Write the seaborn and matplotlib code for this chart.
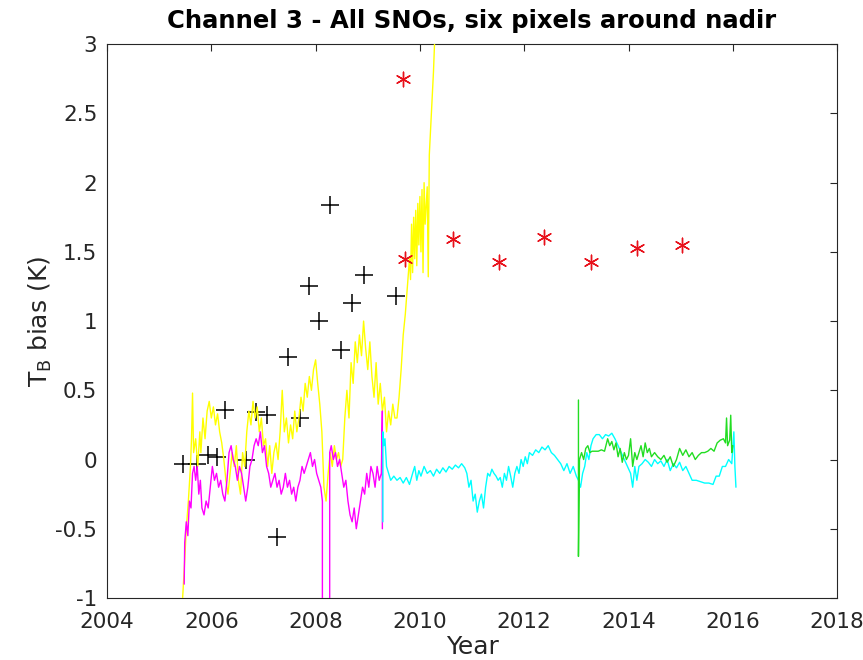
import matplotlib
matplotlib.use("Agg")
import matplotlib.pyplot as plt
import seaborn as sns
import pandas as pd

# ---------------- data ----------------
yellow_x = [2005.45, 2005.48, 2005.52, 2005.56, 2005.60, 2005.62, 2005.64, 2005.66, 2005.70, 2005.74,
            2005.78, 2005.80, 2005.84, 2005.88, 2005.92, 2005.96, 2006.00, 2006.04, 2006.08, 2006.12,
            2006.16, 2006.20, 2006.24, 2006.28, 2006.32, 2006.36, 2006.40, 2006.44, 2006.48, 2006.52,
            2006.56, 2006.60, 2006.64, 2006.68, 2006.72, 2006.76, 2006.80, 2006.84, 2006.88, 2006.92,
            2006.96, 2007.00, 2007.04, 2007.08, 2007.12, 2007.16, 2007.20, 2007.24, 2007.28, 2007.32,
            2007.36, 2007.40, 2007.44, 2007.48, 2007.52, 2007.56, 2007.60, 2007.64, 2007.68, 2007.72,
            2007.76, 2007.80, 2007.84, 2007.88, 2007.92, 2007.96, 2008.00, 2008.04, 2008.08, 2008.12,
            2008.16, 2008.20, 2008.24, 2008.28, 2008.32, 2008.36, 2008.40, 2008.44, 2008.48, 2008.52,
            2008.56, 2008.60, 2008.64, 2008.68, 2008.72, 2008.76, 2008.80, 2008.84, 2008.88, 2008.92,
            2008.96, 2009.00, 2009.04, 2009.08, 2009.12, 2009.16, 2009.20, 2009.24, 2009.28, 2009.32,
            2009.36, 2009.40, 2009.44, 2009.48, 2009.52, 2009.56, 2009.60, 2009.64, 2009.68, 2009.72,
            2009.76, 2009.80, 2009.82, 2009.84, 2009.86, 2009.88, 2009.90, 2009.92, 2009.94, 2009.96,
            2009.98, 2010.00, 2010.02, 2010.04, 2010.06, 2010.08, 2010.10, 2010.14, 2010.16, 2010.18,
            2010.22, 2010.26, 2010.30]
yellow_y = [-1.00, -0.80, -0.50, -0.30, -0.05, 0.15, 0.48, 0.05, 0.15, -0.05,
            0.20, 0.05, 0.30, 0.15, 0.35, 0.42, 0.30, 0.38, 0.25, 0.33,
            0.20, 0.12, 0.00, -0.15, -0.25, -0.10, 0.05, -0.05, 0.10, -0.15,
            -0.25, 0.05, -0.05, 0.20, 0.35, 0.25, 0.42, 0.30, 0.38, 0.20,
            0.30, 0.10, 0.15, -0.05, 0.10, -0.10, 0.05, 0.12, 0.00, 0.20,
            0.50, 0.20, 0.30, 0.12, 0.25, 0.15, 0.35, 0.20, 0.30, 0.45,
            0.35, 0.55, 0.45, 0.60, 0.50, 0.65, 0.72, 0.55, 0.40, 0.20,
            -0.20, -0.30, -0.10, 0.05, -0.05, 0.10, 0.00, 0.05, -0.05, 0.00,
            0.30, 0.50, 0.30, 0.70, 0.55, 0.85, 0.70, 0.90, 0.75, 1.00,
            0.80, 0.65, 0.85, 0.60, 0.45, 0.70, 0.40, 0.55, 0.35, 0.45,
            0.20, 0.35, 0.25, 0.40, 0.30, 0.30, 0.45, 0.65, 0.90, 1.05,
            1.25, 1.45, 1.30, 1.70, 1.35, 1.75, 1.45, 1.80, 1.40, 1.85,
            1.55, 1.90, 1.50, 1.95, 1.35, 2.00, 1.70, 1.97, 1.32, 2.20,
            2.50, 2.80, 3.20]

magenta_x = [2005.48, 2005.49, 2005.52, 2005.55, 2005.58, 2005.61, 2005.64, 2005.67, 2005.70, 2005.73,
             2005.76, 2005.79, 2005.82, 2005.86, 2005.90, 2005.94, 2005.98, 2006.02, 2006.06, 2006.10,
             2006.14, 2006.18, 2006.22, 2006.26, 2006.30, 2006.34, 2006.38, 2006.42, 2006.46, 2006.50,
             2006.54, 2006.58, 2006.62, 2006.66, 2006.70, 2006.74, 2006.78, 2006.82, 2006.86, 2006.90,
             2006.94, 2006.98, 2007.02, 2007.06, 2007.10, 2007.14, 2007.18, 2007.22, 2007.26, 2007.30,
             2007.34, 2007.38, 2007.42, 2007.46, 2007.50, 2007.54, 2007.58, 2007.62, 2007.66, 2007.70,
             2007.74, 2007.78, 2007.82, 2007.86, 2007.90, 2007.94, 2007.98, 2008.02, 2008.06, 2008.10,
             2008.13, 2008.13, 2008.27, 2008.27, 2008.30, 2008.34, 2008.38, 2008.42, 2008.46, 2008.50,
             2008.54, 2008.58, 2008.62, 2008.66, 2008.70, 2008.74, 2008.78, 2008.82, 2008.86, 2008.90,
             2008.94, 2008.98, 2009.02, 2009.06, 2009.10, 2009.14, 2009.18, 2009.22, 2009.26, 2009.28,
             2009.28]
magenta_y = [-0.90, -0.60, -0.45, -0.55, -0.30, -0.35, -0.10, -0.05, -0.15, -0.05,
             -0.25, -0.15, -0.35, -0.40, -0.30, -0.35, -0.20, -0.05, -0.15, -0.10,
             -0.20, -0.15, -0.25, -0.30, -0.15, 0.05, 0.10, 0.00, -0.05, -0.15,
             -0.05, -0.10, -0.20, -0.30, -0.20, -0.05, 0.00, 0.10, 0.15, 0.10,
             0.20, 0.05, 0.10, -0.05, -0.10, -0.20, -0.15, -0.10, -0.20, -0.15,
             -0.25, -0.20, -0.10, -0.20, -0.15, -0.25, -0.20, -0.30, -0.20, -0.15,
             -0.05, -0.10, -0.05, 0.00, 0.05, -0.05, 0.00, -0.10, -0.15, -0.20,
             -0.30, -1.20, -1.20, 0.05, 0.10, 0.00, 0.05, -0.05, 0.00, -0.10,
             -0.20, -0.15, -0.30, -0.40, -0.45, -0.35, -0.50, -0.40, -0.30, -0.20,
             -0.25, -0.10, -0.20, -0.05, -0.10, -0.20, -0.05, -0.15, -0.10, 0.35,
             -0.50]

cyan_x = [2009.29, 2009.29, 2009.31, 2009.33, 2009.36, 2009.40, 2009.44, 2009.50, 2009.56, 2009.62,
          2009.68, 2009.74, 2009.80, 2009.86, 2009.90, 2009.94, 2009.98, 2010.02, 2010.08, 2010.14,
          2010.20, 2010.26, 2010.32, 2010.38, 2010.44, 2010.50, 2010.56, 2010.62, 2010.68, 2010.74,
          2010.80, 2010.86, 2010.90, 2010.94, 2010.98, 2011.02, 2011.06, 2011.10, 2011.14, 2011.18,
          2011.22, 2011.26, 2011.30, 2011.34, 2011.38, 2011.42, 2011.46, 2011.50, 2011.54, 2011.58,
          2011.62, 2011.66, 2011.70, 2011.74, 2011.78, 2011.82, 2011.86, 2011.90, 2011.94, 2011.98,
          2012.02, 2012.06, 2012.10, 2012.16, 2012.22, 2012.28, 2012.34, 2012.40, 2012.46, 2012.52,
          2012.58, 2012.64, 2012.70, 2012.76, 2012.82, 2012.88, 2012.94, 2013.00, 2013.04, 2013.08,
          2013.12, 2013.16, 2013.20, 2013.24, 2013.28, 2013.32, 2013.38, 2013.44, 2013.50, 2013.56,
          2013.62, 2013.68, 2013.74, 2013.80, 2013.86, 2013.92, 2013.98, 2014.04, 2014.08, 2014.12,
          2014.16, 2014.20, 2014.26, 2014.32, 2014.38, 2014.44, 2014.50, 2014.56, 2014.62, 2014.68,
          2014.74, 2014.80, 2014.86, 2014.92, 2014.98, 2015.04, 2015.10, 2015.16, 2015.22, 2015.30,
          2015.38, 2015.46, 2015.54, 2015.62, 2015.68, 2015.74, 2015.80, 2015.86, 2015.92, 2015.98,
          2016.02, 2016.04, 2016.06]
cyan_y = [-0.45, 0.20, 0.10, 0.15, -0.05, -0.10, -0.15, -0.12, -0.15, -0.13,
          -0.17, -0.13, -0.18, -0.10, -0.05, -0.15, -0.08, -0.12, -0.05, -0.10,
          -0.08, -0.12, -0.07, -0.10, -0.06, -0.09, -0.05, -0.07, -0.04, -0.06,
          -0.03, -0.06, -0.10, -0.20, -0.15, -0.30, -0.25, -0.38, -0.30, -0.25,
          -0.35, -0.20, -0.10, -0.12, -0.07, -0.10, -0.12, -0.15, -0.13, -0.20,
          -0.10, -0.15, -0.05, -0.12, -0.20, -0.10, -0.05, -0.10, 0.00, -0.05,
          0.02, -0.03, 0.05, 0.03, 0.07, 0.05, 0.09, 0.07, 0.10, 0.05,
          0.03, 0.00, -0.03, -0.08, -0.03, -0.10, -0.05, -0.12, -0.15, -0.20,
          -0.10, -0.05, 0.05, 0.00, 0.10, 0.15, 0.18, 0.18, 0.15, 0.18,
          0.17, 0.19, 0.15, 0.10, 0.05, 0.00, -0.05, -0.10, -0.20, -0.05,
          -0.15, -0.05, -0.03, 0.00, -0.02, -0.05, 0.00, -0.03, -0.01, -0.05,
          0.00, -0.08, -0.03, -0.06, -0.02, -0.08, -0.05, -0.10, -0.15, -0.15,
          -0.16, -0.17, -0.17, -0.18, -0.12, -0.12, -0.05, -0.05, 0.00, -0.03,
          0.20, -0.05, -0.20]

green_x = [2013.04, 2013.04, 2013.06, 2013.10, 2013.14, 2013.18, 2013.22, 2013.26, 2013.30, 2013.36,
           2013.42, 2013.48, 2013.54, 2013.60, 2013.64, 2013.68, 2013.72, 2013.76, 2013.80, 2013.84,
           2013.88, 2013.92, 2013.96, 2014.00, 2014.04, 2014.08, 2014.12, 2014.16, 2014.20, 2014.24,
           2014.28, 2014.32, 2014.36, 2014.40, 2014.44, 2014.50, 2014.56, 2014.62, 2014.68, 2014.74,
           2014.80, 2014.86, 2014.92, 2014.98, 2015.04, 2015.10, 2015.16, 2015.22, 2015.28, 2015.34,
           2015.40, 2015.46, 2015.52, 2015.58, 2015.64, 2015.70, 2015.76, 2015.82, 2015.86, 2015.88,
           2015.90, 2015.94, 2015.96, 2015.98, 2016.00]
green_y = [0.43, -0.70, 0.00, 0.05, 0.00, 0.08, 0.10, 0.05, 0.06, 0.06,
           0.06, 0.07, 0.06, 0.15, 0.10, 0.13, 0.07, 0.12, 0.02, 0.08,
           -0.02, 0.05, 0.00, 0.03, 0.15, -0.05, 0.05, 0.00, 0.05, 0.10,
           0.02, 0.12, 0.05, 0.08, 0.02, 0.05, 0.02, 0.00, 0.03, -0.02,
           0.02, -0.05, 0.00, 0.08, 0.03, 0.07, 0.02, 0.05, 0.00, 0.03,
           0.05, 0.05, 0.06, 0.08, 0.06, 0.12, 0.14, 0.15, 0.12, 0.30,
           0.10, 0.14, 0.32, 0.05, 0.10]

plus_x = [2005.46, 2005.73, 2005.94, 2006.11, 2006.27, 2006.67, 2006.86, 2007.07, 2007.26,
          2007.48, 2007.71, 2007.88, 2008.07, 2008.28, 2008.49, 2008.69, 2008.92, 2009.55]
plus_y = [-0.03, -0.03, 0.03, 0.02, 0.36, 0.00, 0.34, 0.32, -0.56,
          0.74, 0.30, 1.25, 1.00, 1.84, 0.79, 1.13, 1.33, 1.18]

star_x = [2009.67, 2009.72, 2010.64, 2011.51, 2012.37, 2013.28, 2014.16, 2015.02]
star_y = [2.75, 1.45, 1.59, 1.43, 1.61, 1.43, 1.53, 1.55]

x_ticks = [2004, 2006, 2008, 2010, 2012, 2014, 2016, 2018]
y_ticks = [-1, -0.5, 0, 0.5, 1, 1.5, 2, 2.5, 3]
y_tick_labels = ["-1", "-0.5", "0", "0.5", "1", "1.5", "2", "2.5", "3"]

title = "Channel 3 - All SNOs, six pixels around nadir"
xlabel = "Year"
ylabel = r"T$_\mathrm{B}$ bias (K)"

# ---------------- plotting ----------------
sns.set_style("white")
plt.rcParams["font.family"] = ["DejaVu Sans"]
plt.rcParams["mathtext.default"] = "regular"

fig = plt.figure(figsize=(8.63, 6.60), dpi=100)
ax = fig.add_axes([0.124, 0.094, 0.846, 0.839])

ink = "#262626"

sns.scatterplot(x=plus_x, y=plus_y, marker="+", s=150, color="black",
                linewidth=1.1, ax=ax, zorder=2)

for xs, ys, col in [(yellow_x, yellow_y, "#ffff00"),
                    (magenta_x, magenta_y, "#ff00ff"),
                    (cyan_x, cyan_y, "#00ffff"),
                    (green_x, green_y, "#22dd22")]:
    df = pd.DataFrame({"x": xs, "y": ys})
    sns.lineplot(data=df, x="x", y="y", sort=False, estimator=None,
                 color=col, linewidth=1.0, ax=ax, zorder=3)

sns.scatterplot(x=star_x, y=star_y, marker=(6, 2, 0), s=110, color="#e8111b",
                edgecolor="#e8111b", linewidth=1.0, ax=ax, zorder=4)

ax.set_xlim(2004, 2018)
ax.set_ylim(-1, 3)
ax.set_xticks(x_ticks)
ax.set_xticklabels([str(t) for t in x_ticks])
ax.set_yticks(y_ticks)
ax.set_yticklabels(y_tick_labels)

ax.tick_params(direction="in", length=5, width=0.8, colors=ink,
               labelsize=15.5, top=True, right=True)
ax.tick_params(axis="x", pad=10)
ax.tick_params(axis="y", pad=7)
for sp in ax.spines.values():
    sp.set_visible(True)
    sp.set_color(ink)
    sp.set_linewidth(0.8)

ax.set_title(title, fontsize=17.5, fontweight="bold", color="black", pad=12)
ax.set_xlabel(xlabel, fontsize=18, color=ink, labelpad=2)
ax.set_ylabel(ylabel, fontsize=18, color=ink, labelpad=1)

fig.savefig("out.png", dpi=100, facecolor="white")
